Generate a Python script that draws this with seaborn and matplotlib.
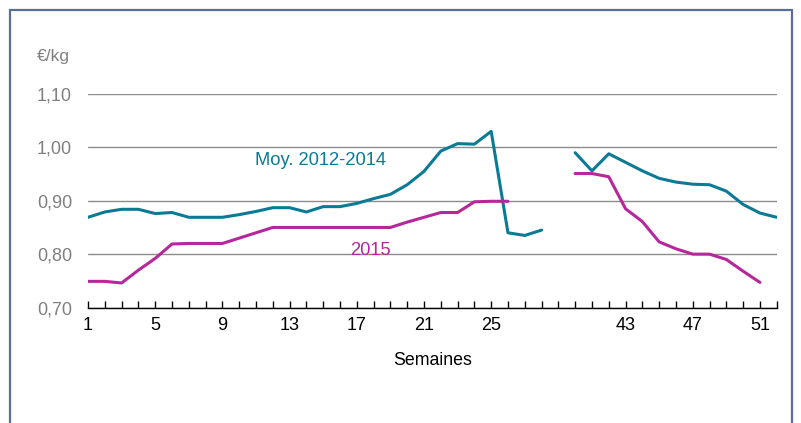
import pandas as pd
import matplotlib.pyplot as plt
import matplotlib.patches as patches
from matplotlib.ticker import FixedLocator, NullFormatter
import seaborn as sns

# Weekly prices (EUR/kg)
weeks_early_avg = list(range(1, 29))
avg_early = [0.869, 0.879, 0.884, 0.884, 0.876, 0.878, 0.869, 0.869, 0.869, 0.874,
             0.880, 0.887, 0.887, 0.879, 0.889, 0.889, 0.895, 0.904, 0.912, 0.930,
             0.955, 0.993, 1.007, 1.006, 1.030, 0.840, 0.835, 0.845]
weeks_late_avg = list(range(40, 53))
avg_late = [0.990, 0.956, 0.988, 0.972, 0.956, 0.942, 0.935, 0.931, 0.930, 0.918,
            0.893, 0.877, 0.869]

weeks_early_2015 = list(range(1, 27))
y2015_early = [0.749, 0.749, 0.746, 0.770, 0.792, 0.819, 0.820, 0.820, 0.820, 0.830,
               0.840, 0.850, 0.850, 0.850, 0.850, 0.850, 0.850, 0.850, 0.850, 0.860,
               0.869, 0.878, 0.878, 0.898, 0.899, 0.899]
weeks_late_2015 = list(range(40, 52))
y2015_late = [0.951, 0.951, 0.945, 0.885, 0.861, 0.823, 0.810, 0.800, 0.800, 0.790,
              0.768, 0.747]

tick_weeks = [1, 5, 9, 13, 17, 21, 25, 43, 47, 51]
y_ticks = [0.70, 0.80, 0.90, 1.00, 1.10]

teal = "#0b7a95"
magenta = "#b5279a"
grey = "#808080"


# weeks 29-39 are left out of the axis (one empty slot marks the break)
def pos(w):
    return w if w <= 28 else w - 10


segments = [
    (weeks_early_avg, avg_early, teal),
    (weeks_late_avg, avg_late, teal),
    (weeks_early_2015, y2015_early, magenta),
    (weeks_late_2015, y2015_late, magenta),
]

sns.set_theme(style="white")
plt.rcParams['font.family'] = ['Liberation Sans', 'DejaVu Sans']

fig = plt.figure(figsize=(8.01, 4.23), dpi=100)
ax = fig.add_axes([0.1099, 0.2730, 0.8598, 0.5048])

for wk, vals, col in segments:
    df = pd.DataFrame({"pos": [pos(w) for w in wk], "prix": vals})
    sns.lineplot(data=df, x="pos", y="prix", ax=ax, color=col, linewidth=2.2)

ax.set_xlim(1, 42)
ax.set_ylim(0.70, 1.10)

# gridlines
ax.set_yticks(y_ticks)
ax.set_yticklabels([f"{v:.2f}".replace(".", ",") for v in y_ticks])
ax.grid(axis="y", color="#8c8c8c", linewidth=1.0)
ax.set_axisbelow(True)

ax.set_xticks([pos(w) for w in tick_weeks])
ax.set_xticklabels([str(w) for w in tick_weeks])
ax.xaxis.set_minor_locator(FixedLocator(range(1, 43)))
ax.xaxis.set_minor_formatter(NullFormatter())
ax.tick_params(axis="x", which="both", direction="in", length=5, width=1,
               color="black", bottom=True, labelsize=13, labelcolor="black", pad=7)
ax.tick_params(axis="y", left=False, length=0, labelsize=13, labelcolor=grey, pad=11.5)

for side in ["top", "right", "left"]:
    ax.spines[side].set_visible(False)
ax.spines["bottom"].set_color("black")
ax.spines["bottom"].set_linewidth(1.0)

ax.set_xlabel("Semaines", fontsize=12.8, color="black", labelpad=13)
ax.set_ylabel("")

fig.text(37 / 801, 1 - 57 / 423, "€/kg", fontsize=12.5, color=grey, va="center", ha="left")

ax.text(14.83, 0.975, "Moy. 2012-2014", color=teal, fontsize=13.2, ha="center", va="center")
ax.text(17.8, 0.8075, "2015", color=magenta, fontsize=13.2, ha="center", va="center")

# frame around the figure
frame = patches.Rectangle((10 / 801, -0.2), 782 / 801, 1.2 - 10 / 423,
                          transform=fig.transFigure, fill=False,
                          edgecolor="#5a6f98", linewidth=1.6, clip_on=False)
fig.patches.append(frame)

fig.savefig("out.png", dpi=100, facecolor="white")
